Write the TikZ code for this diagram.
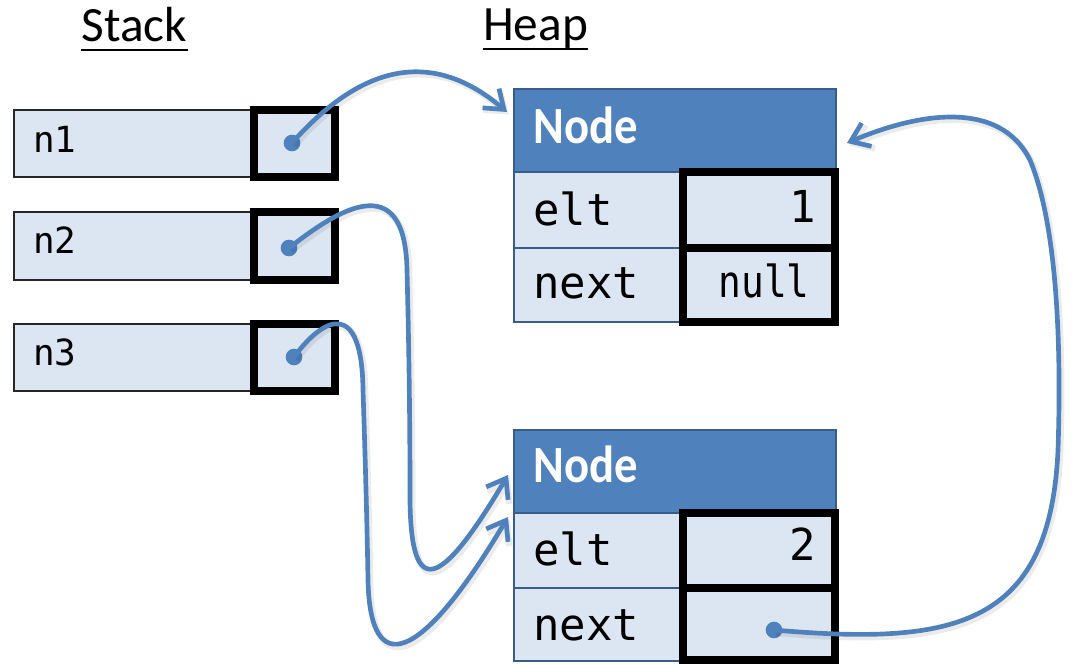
\documentclass[tikz,border=0pt]{standalone}
\usepackage{fontspec}
\setmainfont{Carlito}
\newfontfamily\codefont{DejaVu Sans Mono}
\usetikzlibrary{arrows.meta,fit}

\definecolor{hdrblue}{HTML}{4F81BD}
\definecolor{edgeblue}{HTML}{385D8A}
\definecolor{cellfill}{HTML}{DCE6F2}
\definecolor{ptrblue}{HTML}{4F81BD}

\begin{document}
\begin{tikzpicture}[x=0.75pt,y=-0.75pt,
  stackcell/.style={draw=black!85, line width=1.5pt, fill=cellfill, inner sep=0pt},
  refcell/.style={draw=black, line width=6pt, fill=cellfill, inner sep=0pt},
  header/.style={draw=edgeblue, line width=1.5pt, fill=hdrblue, inner sep=0pt},
  field/.style={draw=edgeblue, line width=1.5pt, fill=cellfill, inner sep=0pt},
  title/.style={font=\fontsize{37}{40}\selectfont, inner sep=0pt, anchor=base},
  uline/.style={line width=2pt},
  hdrtext/.style={font=\fontsize{35}{38}\selectfont\bfseries, text=white, inner sep=0pt, anchor=base west},
  varname/.style={font=\codefont\fontsize{27}{30}\selectfont, inner sep=0pt, anchor=base west},
  fieldname/.style={font=\codefont\fontsize{33}{36}\selectfont, inner sep=0pt, anchor=base west},
  fieldval/.style={font=\codefont\fontsize{33}{36}\selectfont, inner sep=0pt, anchor=base east},
  dot/.style={circle, fill=ptrblue, inner sep=0pt, minimum size=12.5pt},
  ptr/.style={draw=ptrblue, line width=3.5pt, line cap=round, line join=round,
    -{Straight Barb[length=13pt,width=19pt]},
    preaction={draw=black, opacity=0.08, line width=5pt,
      transform canvas={xshift=1.5pt,yshift=-2pt}}}
]
\useasboundingbox (0,0) rectangle (1072,665);

% ---- titles ----
\node[title] (stack) at (134.5,41) {Stack};
\node[title] (heap) at (535.5,40) {Heap};
\draw[uline] ([yshift=-6.75pt]stack.base west) -- ([yshift=-6.75pt]stack.base east);
\draw[uline] ([yshift=-6.75pt]heap.base west) -- ([yshift=-6.75pt]heap.base east);

% ---- stack variables ----
\node[stackcell, fit={(14,110) (254,177)}] (v1) {};
\node[refcell, fit={(254,110) (335,177)}] (r1) {};
\node[varname] (l1) at (33,152) {n1};

\node[stackcell, fit={(14,212) (254,280)}] (v2) {};
\node[refcell, fit={(254,212) (335,280)}] (r2) {};
\node[varname] (l2) at (33,253) {n2};

\node[stackcell, fit={(14,324) (254,391)}] (v3) {};
\node[refcell, fit={(254,324) (335,391)}] (r3) {};
\node[varname] (l3) at (33,365) {n3};

% ---- heap object 1 ----
\node[header, fit={(514,89) (836,172)}] (h1) {};
\node[field, fit={(514,172) (835,248)}] (e1) {};
\node[field, fit={(514,248) (835,322)}] (x1) {};
\node[refcell, fit={(683,172) (835,248)}] (ev1) {};
\node[refcell, fit={(683,248) (835,322)}] (xv1) {};
\node[hdrtext] (ht1) at (533,143) {\scalebox{1}[1.12]{Node}};
\node[fieldname] (en1) at (533,225) {elt};
\node[fieldname] (xn1) at (533,298) {next};
\node[fieldval] (eval1) at (816,222) {1};
\node[fieldval] (xval1) at (810,297) {\scalebox{0.86}[1]{null}};

% ---- heap object 2 ----
\node[header, fit={(514,430) (836,513)}] (h2) {};
\node[field, fit={(514,513) (835,588)}] (e2) {};
\node[field, fit={(514,588) (835,661)}] (x2) {};
\node[refcell, fit={(683,513) (835,588)}] (ev2) {};
\node[refcell, fit={(683,588) (835,660)}] (xv2) {};
\node[hdrtext] (ht2) at (533,482) {\scalebox{1}[1.12]{Node}};
\node[fieldname] (en2) at (533,565) {elt};
\node[fieldname] (xn2) at (533,640) {next};
\node[fieldval] (eval2) at (816,560) {2};

% ---- pointer origins and targets ----
\node[dot] (d1) at (292,143) {};
\node[dot] (d2) at (289,248) {};
\node[dot] (d3) at (294,357) {};
\node[dot] (d4) at (774,630) {};
\coordinate (t1) at (507,112);
\coordinate (t2) at (508,475);
\coordinate (t3) at (508,517);
\coordinate (t4) at (847,143);

% ---- references ----
\draw[ptr] (d1.center) .. controls (370,55) and (440,55) .. (t1);
\draw[ptr] (d2.center) .. controls (335,212) and (405,165) .. (407,270)
  .. controls (409,350) and (410,420) .. (410,500)
  .. controls (411,600) and (440,590) .. (t2);
\draw[ptr] (d3.center) .. controls (325,315) and (362,300) .. (363,390)
  .. controls (365,450) and (367,520) .. (368,580)
  .. controls (370,680) and (420,665) .. (t3);
\draw[ptr] (d4.center) .. controls (950,645) and (1050,630) .. (1058,450)
  .. controls (1062,330) and (1055,220) .. (1030,160)
  .. controls (1000,100) and (920,112) .. (t4);
\end{tikzpicture}
\end{document}
